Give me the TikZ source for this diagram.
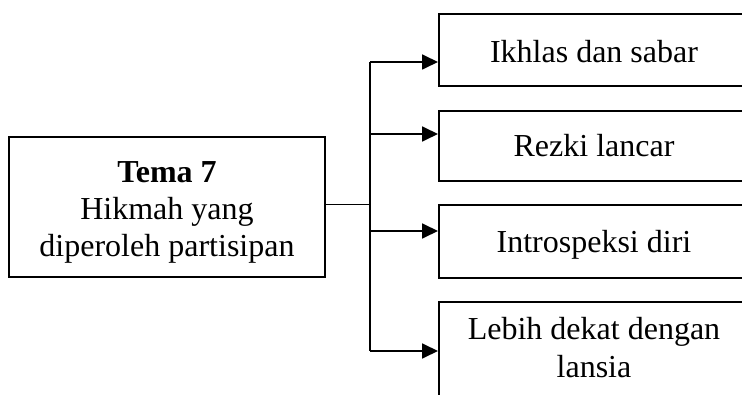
\documentclass[tikz,border=0pt]{standalone}
\usepackage{fontspec}
\setmainfont{Liberation Serif}
\usetikzlibrary{arrows.meta}
\begin{document}
\begin{tikzpicture}[x=1pt,y=1pt,
  box/.style={draw,line width=2pt,rectangle,inner sep=0pt},
  rbox/.style={box,minimum width=312},
  txt/.style={align=center,inner sep=0pt,font=\fontsize{32}{37}\selectfont},
  link/.style={line width=1.8pt},
  arrowlink/.style={link,-{Triangle[length=16pt,width=15pt]}}]
  \useasboundingbox (0,0) rectangle (742,394);
  \clip (0,0) rectangle (742,394);
  % theme box
  \node[box,minimum width=316,minimum height=140] (tema) at (167,187) {};
  \node[txt] (tematxt) at (167,182)
    {\textbf{Tema 7}\\Hikmah yang\\diperoleh partisipan};
  % outcome boxes
  \node[rbox,minimum height=72] (b1) at (595,344) {};
  \node[rbox,minimum height=70] (b2) at (595,248) {};
  \node[rbox,minimum height=73] (b3) at (595,152.5) {};
  \node[rbox,minimum height=98] (b4) at (595,43) {};
  \node[txt,anchor=base] (b1txt) at (594,331) {Ikhlas dan sabar};
  \node[txt,anchor=base] (b2txt) at (594,237) {Rezki lancar};
  \node[txt,anchor=base] (b3txt) at (594,141) {Introspeksi diri};
  \node[txt,font=\fontsize{32}{38}\selectfont] (b4txt) at (594,46) {Lebih dekat dengan\\lansia};
  % trunk and branches
  \coordinate (t1) at (370,332);
  \coordinate (t2) at (370,260);
  \coordinate (t3) at (370,163);
  \coordinate (t4) at (370,43);
  \coordinate (tm) at (370,189);
  \draw[line width=1pt] (tema.east |- tm) -- (tm);
  \draw[link] (t1) -- (t4);
  \draw[arrowlink] (t1) -- (t1 -| b1.west);
  \draw[arrowlink] (t2) -- (t2 -| b2.west);
  \draw[arrowlink] (t3) -- (t3 -| b3.west);
  \draw[arrowlink] (t4) -- (t4 -| b4.west);
\end{tikzpicture}
\end{document}
